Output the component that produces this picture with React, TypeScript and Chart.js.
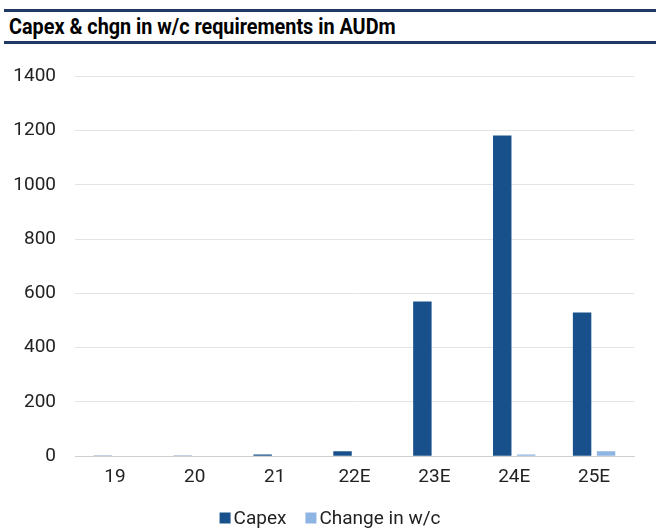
import React, { useEffect, useRef } from "react";
import { Chart, registerables } from "chart.js";

Chart.register(...registerables);

const categories = ["19", "20", "21", "22E", "23E", "24E", "25E"];
const capex = [1, 1, 6, 18, 570, 1182, 530];
const changeWc = [0, 0, 0, 2, 0, 6, 18];
const yTicks = [0, 200, 400, 600, 800, 1000, 1200, 1400];
const titleText = "Capex & chgn in w/c requirements in AUDm";

const legendPlugin = {
  id: "customLegend",
  afterDraw(chart: any) {
    const ctx = chart.ctx;
    const items = chart.data.datasets.map((d: any) => ({ label: d.label, color: d.backgroundColor }));
    ctx.save();
    ctx.font = "19px Roboto";
    const box = 11;
    const boxGap = 3;
    const itemGap = 19;
    const widths = items.map((it: any) => box + boxGap + ctx.measureText(it.label).width);
    const total = widths.reduce((a: number, b: number) => a + b, 0) + itemGap * (items.length - 1);
    let x = chart.width / 2 - total / 2 + 2;
    const cy = chart.height - 12;
    items.forEach((it: any, i: number) => {
      ctx.fillStyle = it.color;
      ctx.fillRect(x, cy - box / 2, box, box);
      ctx.fillStyle = "#222";
      ctx.textBaseline = "middle";
      ctx.textAlign = "left";
      ctx.fillText(it.label, x + box + boxGap, cy + 1);
      x += widths[i] + itemGap;
    });
    ctx.restore();
  },
};

export default function App() {
  const ref = useRef<HTMLCanvasElement>(null);
  useEffect(() => {
    document.body.style.margin = "0";
    const ctx = ref.current!.getContext("2d")!;
    const chart = new Chart(ctx, {
      type: "bar",
      data: {
        labels: categories,
        datasets: [
          { label: "Capex", data: capex, backgroundColor: "#17508A", categoryPercentage: 0.6, barPercentage: 0.77 },
          { label: "Change in w/c", data: changeWc, backgroundColor: "#8EB4E3", categoryPercentage: 0.6, barPercentage: 0.77 },
        ],
      },
      options: {
        animation: false,
        responsive: false,
        maintainAspectRatio: false,
        layout: { padding: { top: 25, right: 22, left: 0, bottom: 36 } },
        plugins: {
          tooltip: { enabled: false },
          legend: { display: false },
        },
        scales: {
          x: {
            grid: { display: false, drawTicks: false },
            border: { display: true, color: "#d0d0d0", width: 1 },
            ticks: { color: "#222", font: { family: "Roboto", size: 19 }, padding: 10 },
            afterFit: (s: any) => {
              s.height = s.height - 5;
            },
          },
          y: {
            min: 0,
            max: 1400,
            afterBuildTicks: (s: any) => {
              s.ticks = yTicks.map((v) => ({ value: v }));
            },
            afterFit: (s: any) => {
              s.width = 75;
            },
            grid: { color: "#e3e3e3", drawTicks: false },
            border: { display: false },
            ticks: {
              color: "#222",
              font: { family: "Roboto", size: 19 },
              padding: 19,
              callback: (v: any) => String(v),
            },
          },
        },
      },
      plugins: [legendPlugin],
    });
    return () => chart.destroy();
  }, []);
  return (
    <div style={{ width: 656, height: 530, position: "relative", background: "#fff" }}>
      <div
        style={{
          position: "absolute",
          left: 4,
          top: 9,
          width: 652,
          height: 29,
          borderTop: "3px solid #1F3864",
          borderBottom: "3px solid #1F3864",
          boxSizing: "content-box",
          overflow: "hidden",
        }}
      >
        <span
          style={{
            display: "inline-block",
            marginLeft: 5,
            fontFamily: "Roboto",
            fontWeight: 700,
            fontSize: 22,
            lineHeight: "29px",
            color: "#000",
            whiteSpace: "nowrap",
            transform: "scaleX(0.9)",
            transformOrigin: "left center",
          }}
        >
          {titleText}
        </span>
      </div>
      <canvas ref={ref} width={656} height={484} style={{ position: "absolute", left: 0, top: 46 }} />
    </div>
  );
}
